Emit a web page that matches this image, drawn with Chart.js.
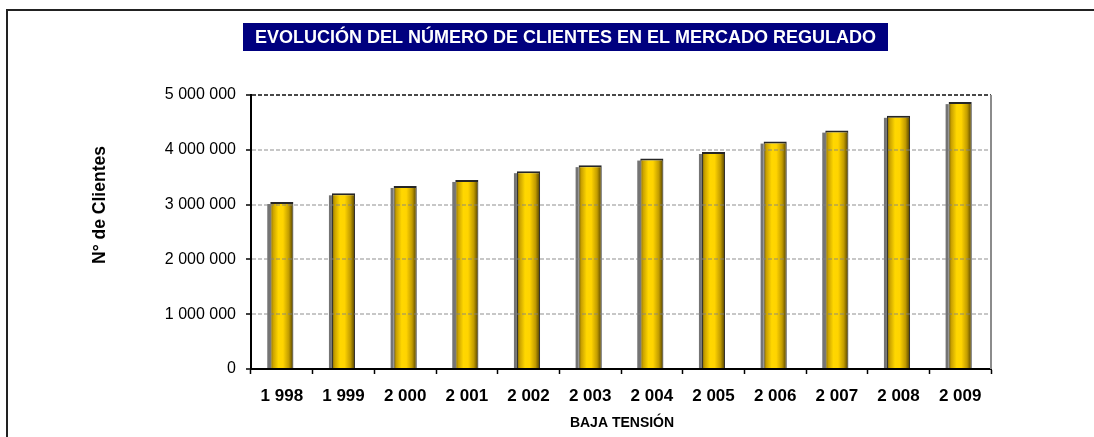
<!DOCTYPE html>
<html>
<head>
<meta charset="utf-8">
<title>Clientes mercado regulado</title>
<script src="https://cdn.jsdelivr.net/npm/chart.js@4.4.1/dist/chart.umd.min.js"></script>
<style>
  html, body { margin: 0; padding: 0; background: #fff; }
  #wrap { width: 1094px; height: 437px; }
</style>
</head>
<body>
<div id="wrap"><canvas id="chart" width="1094" height="437"></canvas></div>
<script>
// Data
const years = ['1 998', '1 999', '2 000', '2 001', '2 002', '2 003', '2 004', '2 005', '2 006', '2 007', '2 008', '2 009'];
const clientes = [3047000, 3206000, 3340000, 3450000, 3610000, 3720000, 3840000, 3960000, 4150000, 4350000, 4620000, 4870000];
const yMin = 0;
const yMax = 5000000;
const yStep = 1000000;

const chartTitle = 'EVOLUCIÓN DEL NÚMERO DE CLIENTES EN EL MERCADO REGULADO';
const yTitle = 'N° de Clientes';
const xTitle = 'BAJA TENSIÓN';

const FONT = "Arial, 'Liberation Sans', sans-serif";
const BAR_PCT = 0.375;

function fmtSpaces(v) {
  return String(Math.round(v)).replace(/\B(?=(\d{3})+(?!\d))/g, ' ');
}

// horizontal gold gradient for each bar (cylinder look)
function barGradient(c) {
  const chart = c.chart;
  const xs = chart.scales && chart.scales.x;
  if (!xs || !chart.chartArea) return '#FFD700';
  const cx = xs.getPixelForValue(c.dataIndex);
  const w = (xs.width / years.length) * BAR_PCT;
  const g = chart.ctx.createLinearGradient(cx - w / 2, 0, cx + w / 2, 0);
  g.addColorStop(0, '#7a6200');
  g.addColorStop(0.12, '#c9a100');
  g.addColorStop(0.35, '#ffd700');
  g.addColorStop(0.55, '#ffd400');
  g.addColorStop(0.8, '#c29c00');
  g.addColorStop(1, '#4d3d00');
  return g;
}

// gray side shadow to the left of each bar
const barShadow = {
  id: 'barShadow',
  beforeDatasetsDraw(chart) {
    const ctx = chart.ctx;
    const meta = chart.getDatasetMeta(0);
    ctx.save();
    meta.data.forEach(bar => {
      const p = bar.getProps(['x', 'y', 'base', 'width'], true);
      ctx.fillStyle = 'rgba(70,70,70,0.75)';
      ctx.fillRect(p.x - p.width / 2 - 3, p.y + 2, 3, p.base - p.y - 2);
    });
    ctx.restore();
  }
};

// frame, title box, axis titles, right plot edge
const decorations = {
  id: 'decorations',
  afterDraw(chart) {
    const ctx = chart.ctx;
    const a = chart.chartArea;
    ctx.save();

    // outer frame (top + left)
    ctx.strokeStyle = '#222';
    ctx.lineWidth = 2;
    ctx.beginPath();
    ctx.moveTo(7, 437);
    ctx.lineTo(7, 10);
    ctx.lineTo(1094, 10);
    ctx.stroke();

    // right edge of plot area
    ctx.strokeStyle = '#8c8c8c';
    ctx.lineWidth = 2;
    ctx.beginPath();
    ctx.moveTo(a.right, a.top);
    ctx.lineTo(a.right, a.bottom);
    ctx.stroke();

    // title box
    ctx.fillStyle = '#00007f';
    ctx.fillRect(243, 23, 645, 28);
    ctx.fillStyle = '#ffffff';
    ctx.font = 'bold 18px ' + FONT;
    ctx.textAlign = 'center';
    ctx.textBaseline = 'middle';
    ctx.fillText(chartTitle, 565.5, 38);

    // y title
    ctx.fillStyle = '#000';
    ctx.font = 'bold 17.5px ' + FONT;
    ctx.save();
    ctx.translate(100, 205);
    ctx.rotate(-Math.PI / 2);
    ctx.fillText(yTitle, 0, 0);
    ctx.restore();

    // x title
    ctx.font = 'bold 14px ' + FONT;
    ctx.fillText(xTitle, 622, 423);

    ctx.restore();
  }
};

new Chart(document.getElementById('chart'), {
  type: 'bar',
  data: {
    labels: years,
    datasets: [{
      data: clientes,
      backgroundColor: barGradient,
      borderColor: '#262626',
      borderWidth: { top: 2, left: 1, right: 1, bottom: 0 },
      borderSkipped: 'bottom',
      categoryPercentage: 1,
      barPercentage: BAR_PCT
    }]
  },
  options: {
    responsive: false,
    animation: false,
    devicePixelRatio: 1,
    layout: { padding: { top: 95, right: 103, left: 0, bottom: 0 } },
    plugins: {
      legend: { display: false },
      title: { display: false },
      tooltip: { enabled: false }
    },
    scales: {
      x: {
        afterFit: s => { s.height = 68; },
        grid: {
          offset: true,
          drawOnChartArea: false,
          color: '#000',
          tickColor: '#000',
          tickLength: 5,
          tickWidth: 1.5
        },
        border: { color: '#000', width: 2, z: 2 },
        ticks: {
          color: '#000',
          padding: 12,
          font: { family: FONT, size: 17, weight: 'bold' },
          maxRotation: 0
        }
      },
      y: {
        min: yMin,
        max: yMax,
        afterFit: s => { s.width = 251; },
        grid: {
          z: 1,
          lineWidth: 2,
          color: c => (c.tick && c.tick.value === yMax) ? 'rgba(40,40,40,0.85)' : 'rgba(130,130,130,0.45)',
          tickColor: '#000',
          tickLength: 5,
          tickWidth: 1.5,
          tickBorderDash: []
        },
        // grid lines go above the bars; axis line on top of them
        border: { color: '#000', width: 2, dash: [4, 2], z: 2 },
        ticks: {
          stepSize: yStep,
          color: '#000',
          padding: 10,
          font: { family: FONT, size: 16 },
          callback: v => fmtSpaces(v)
        }
      }
    }
  },
  plugins: [barShadow, decorations]
});
</script>
</body>
</html>
